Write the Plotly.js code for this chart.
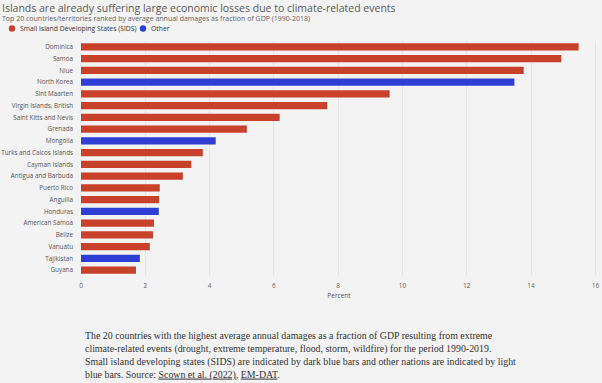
<!DOCTYPE html>
<html>
<head>
<meta charset="utf-8">
<script src="https://cdn.plot.ly/plotly-3.0.1.min.js"></script>
<style>
html,body{margin:0;padding:0;background:#f3f3f3;}
#chart{width:602px;height:383px;}
</style>
</head>
<body>
<div id="chart"></div>
<script>
const countries = ["Dominica","Samoa","Niue","North Korea","Sint Maarten","Virgin Islands, British","Saint Kitts and Nevis","Grenada","Mongolia","Turks and Caicos Islands","Cayman Islands","Antigua and Barbuda","Puerto Rico","Anguilla","Honduras","American Samoa","Belize","Vanuatu","Tajikistan","Guyana"];
const damages = [15.48,14.94,13.77,13.48,9.6,7.66,6.18,5.16,4.19,3.79,3.43,3.17,2.45,2.43,2.42,2.27,2.24,2.14,1.83,1.71];
const group = ["SIDS","SIDS","SIDS","Other","SIDS","SIDS","SIDS","SIDS","Other","SIDS","SIDS","SIDS","SIDS","SIDS","Other","SIDS","SIDS","SIDS","Other","SIDS"];
const xTicks = [0,2,4,6,8,10,12,14,16];
const legendLabels = ["Small Island Developing States (SIDS)","Other"];

const RED = "#c8412b", BLUE = "#2f3fd6";
function pick(g){
  const y=[],x=[];
  countries.forEach((c,i)=>{ if(group[i]===g){ y.push(c); x.push(damages[i]); } });
  return {x,y};
}
const s = pick("SIDS"), o = pick("Other");
const traces = [
  {type:"bar", orientation:"h", x:s.x, y:s.y, name:legendLabels[0], marker:{color:RED}, hoverinfo:"x+y"},
  {type:"bar", orientation:"h", x:o.x, y:o.y, name:legendLabels[1], marker:{color:BLUE}, hoverinfo:"x+y"}
];
const fontSans = "Open Sans, Noto Sans, sans-serif";
const M = {l:81, r:5, t:41, b:107}, W = 602, H = 383;
const pw = W - M.l - M.r, ph = H - M.t - M.b;
const px2x = p => (p - M.l) / pw;
const py2y = p => (H - M.b - p) / ph;
function legendDot(color, cx, cy){
  return {type:"circle", xref:"paper", yref:"paper", xsizemode:"pixel", ysizemode:"pixel",
    xanchor:px2x(cx), yanchor:py2y(cy), x0:-3.2, x1:3.2, y0:-3.2, y1:3.2,
    fillcolor:color, line:{width:0}};
}
function legendText(t, xs){
  return {xref:"paper", yref:"paper", x:px2x(xs), y:py2y(28.5), xanchor:"left", yanchor:"middle", borderpad:0, text:t, showarrow:false, font:{size:6.8, color:"#333", family:fontSans}};
}
const layout = {
  width:W, height:H,
  paper_bgcolor:"#f3f3f3", plot_bgcolor:"#f3f3f3",
  margin:M,
  barmode:"relative", bargap:0.4,
  showlegend:false,
  font:{family:fontSans, color:"#555", size:7},
  xaxis:{range:[0,16.05], tickvals:xTicks, ticktext:xTicks.map(String), showgrid:true, gridcolor:"#e4e4e4", gridwidth:1, zeroline:false, showline:false, ticks:"", ticklabelstandoff:4, tickfont:{size:6.5, color:"#666"},
    title:{text:"Percent", font:{size:6.5, color:"#555"}, standoff:4}},
  yaxis:{type:"category", categoryorder:"array", categoryarray:countries, autorange:"reversed", showgrid:false, zeroline:false, ticks:"", ticklen:0, ticklabelstandoff:7, tickfont:{size:6.3, color:"#555"}, automargin:false},
  shapes:[legendDot(RED, 12, 28.5), legendDot(BLUE, 143, 28.5)],
  annotations:[
    {xref:"paper", yref:"paper", x:0, y:1, xanchor:"left", yanchor:"top", xshift:-80, yshift:41, borderpad:0, text:"Islands are already suffering large economic losses due to climate-related events", showarrow:false, font:{size:10.5, color:"#5a5a5a", family:fontSans}},
    {xref:"paper", yref:"paper", x:0, y:1, xanchor:"left", yanchor:"top", xshift:-80, yshift:28, borderpad:0, text:"Top 20 countries/territories ranked by average annual damages as fraction of GDP (1990-2018)", showarrow:false, font:{size:7, color:"#666", family:fontSans}},
    legendText(legendLabels[0], 19), legendText(legendLabels[1], 150),
    {xref:"paper", yref:"paper", x:0, y:0, xanchor:"left", yanchor:"top", xshift:2, yshift:-52, align:"left",
     text:"The 20 countries with the highest average annual damages as a fraction of GDP resulting from extreme<br>climate-related events (drought, extreme temperature, flood, storm, wildfire) for the period 1990-2019.<br>Small island developing states (SIDS) are indicated by dark blue bars and other nations are indicated by light<br>blue bars. Source: <span style='text-decoration:underline'>Scown et al. (2022)</span>, <span style='text-decoration:underline'>EM-DAT</span>.",
     showarrow:false, font:{size:9.9, color:"#333", family:"Liberation Serif, serif"}}
  ]
};
Plotly.newPlot("chart", traces, layout, {displayModeBar:false, staticPlot:true});
</script>
</body>
</html>
